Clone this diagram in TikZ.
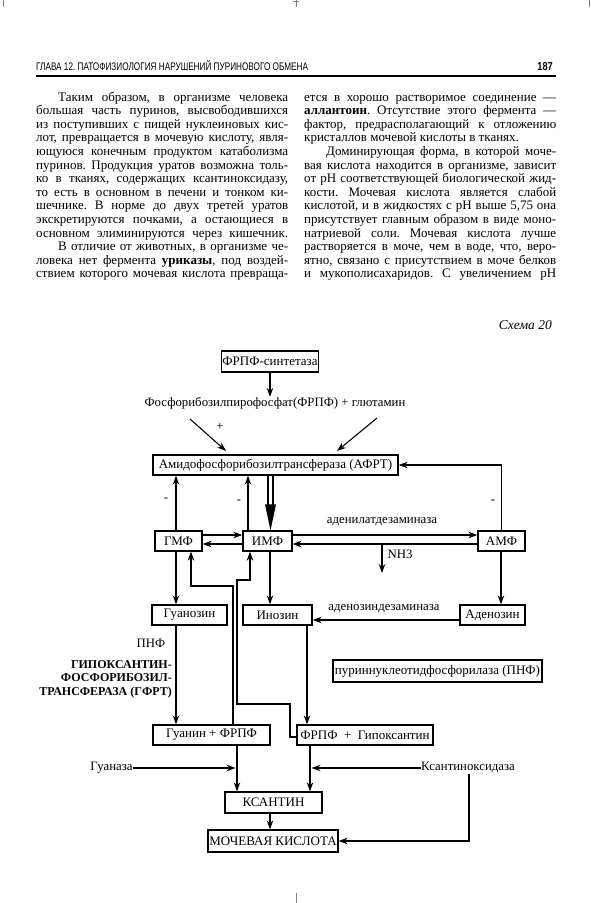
\documentclass[tikz,border=0pt]{standalone}
\usepackage{fontspec}
\usepackage{graphicx}
\setmainfont{Liberation Serif}
\newfontfamily\hdr{Liberation Sans}
\usetikzlibrary{arrows.meta}
\frenchspacing
\newcommand{\jline}[4]{\node[body] at (#1,#2) {\frenchspacing\makebox[#3pt][s]{#4}};}
\newcommand{\nline}[3]{\node[body] at (#1,#2) {#3};}
\begin{document}
\begin{tikzpicture}[x=1pt,y=-1pt,
  box/.style={draw,line width=1.3pt,inner sep=0pt,minimum height=20pt,font=\fontsize{13}{14}\selectfont},
  lab/.style={inner sep=0pt,font=\fontsize{12.8}{14}\selectfont},
  arr/.style={line width=1.1pt,-{Stealth[length=9pt,width=6.5pt]}},
  ln/.style={line width=1.1pt},
  body/.style={inner sep=0pt,anchor=base west,font=\fontsize{13}{13.6}\selectfont},
]
\fill[white] (0,0) rectangle (590,903);
\useasboundingbox (0,0) rectangle (590,903);
% crop ticks
\draw[gray,line width=0.8pt] (3,0) -- (3,7);
\draw[gray,line width=0.8pt] (296,0) -- (296,7);
\draw[gray,line width=0.8pt] (293,1) -- (299,1);
\draw[gray,line width=0.8pt] (589,0) -- (589,7);
\draw[gray,line width=0.8pt] (296,893) -- (296,903);
% header
\node[anchor=base west,inner sep=0pt] (hd) at (36,70) {\scalebox{0.745}[1]{\hdr\fontsize{11}{11}\selectfont ГЛАВА 12. ПАТОФИЗИОЛОГИЯ НАРУШЕНИЙ ПУРИНОВОГО ОБМЕНА}};
\node[anchor=base east,inner sep=0pt] (pg) at (553,70) {\scalebox{0.8}[1]{\hdr\bfseries\fontsize{11.5}{11}\selectfont 187}};
\draw[line width=2.4pt] (36,76) -- (556,76);
% left column
\jline{58}{101}{230}{Таким образом, в организме человека}
\jline{36}{114.6}{252}{большая часть пуринов, высвободившихся}
\jline{36}{128.2}{252}{из поступивших с пищей нуклеиновых кис-}
\jline{36}{141.8}{252}{лот, превращается в мочевую кислоту, явля-}
\jline{36}{155.4}{252}{ющуюся конечным продуктом катаболизма}
\jline{36}{169}{252}{пуринов. Продукция уратов возможна толь-}
\jline{36}{182.6}{252}{ко в тканях, содержащих ксантиноксидазу,}
\jline{36}{196.2}{252}{то есть в основном в печени и тонком ки-}
\jline{36}{209.8}{252}{шечнике. В норме до двух третей уратов}
\jline{36}{223.4}{252}{экскретируются почками, а остающиеся в}
\jline{36}{237}{252}{основном элиминируются через кишечник.}
\jline{58}{250.6}{230}{В отличие от животных, в  организме че-}
\jline{36}{264.2}{252}{ловека нет фермента \textbf{уриказы}, под воздей-}
\jline{36}{277.8}{252}{ствием которого мочевая кислота превраща-}
% right column
\jline{304}{101}{252}{ется в хорошо растворимое соединение —}
\jline{304}{114.6}{252}{\textbf{аллантоин}. Отсутствие этого фермента —}
\jline{304}{128.2}{252}{фактор, предрасполагающий к отложению}
\nline{304}{141.8}{кристаллов мочевой кислоты в тканях.}
\jline{326}{155.4}{230}{Доминирующая форма, в которой моче-}
\jline{304}{169}{252}{вая кислота находится в организме, зависит}
\jline{304}{182.6}{252}{от pH соответствующей биологической жид-}
\jline{304}{196.2}{252}{кости. Мочевая кислота является слабой}
\jline{304}{209.8}{252}{кислотой, и в жидкостях с pH выше 5,75 она}
\jline{304}{223.4}{252}{присутствует главным образом в виде моно-}
\jline{304}{237}{252}{натриевой соли. Мочевая кислота лучше}
\jline{304}{250.6}{252}{растворяется  в моче, чем в воде, что, веро-}
\jline{304}{264.2}{252}{ятно, связано с присутствием в моче белков}
\jline{304}{277.8}{252}{и мукополисахаридов. С увеличением pH}
\node[anchor=base east,inner sep=0pt,font=\itshape\fontsize{13.5}{14}\selectfont] (sch) at (552,329) {Схема 20};
% diagram nodes
\node[box,minimum width=97pt,minimum height=21pt] (syn) at (270,361.5) {ФРПФ-синтетаза};
\node[lab] (frpf) at (275,403) {Фосфорибозилпирофосфат(ФРПФ) + глютамин};
\node[box,minimum width=245pt] (afrt) at (275.5,465) {Амидофосфорибозилтрансфераза (АФРТ)};
\node[box,minimum width=47pt] (gmf) at (178.5,541) {ГМФ};
\node[box,minimum width=49pt] (imf) at (267.5,541) {ИМФ};
\node[box,minimum width=47pt] (amf) at (501.5,541) {АМФ};
\node[box,minimum width=75pt] (guo) at (189.5,615) {Гуанозин};
\node[box,minimum width=69pt] (ino) at (277.5,615) {Инозин};
\node[box,minimum width=65pt] (ado) at (492.5,615) {Аденозин};
\node[box,minimum width=209pt,minimum height=22pt] (pnf) at (437.5,671) {пуриннуклеотидфосфорилаза (ПНФ)};
\node[box,minimum width=117pt] (gua) at (211.5,735) {Гуанин + ФРПФ};
\node[box,minimum width=136pt] (hyp) at (365,735) {ФРПФ~ + ~Гипоксантин};
\node[box,minimum width=97pt,minimum height=21pt] (xan) at (273.5,802.5) {КСАНТИН};
\node[box,minimum width=130pt,minimum height=22pt] (uric) at (273,841) {МОЧЕВАЯ КИСЛОТА};
% labels
\node[lab] (plus) at (220,427) {+};
\node[lab] (m1) at (166,500) {-};
\node[lab] (m2) at (239,502) {-};
\node[lab] (m3) at (493,502) {-};
\node[lab] (ada) at (382,522) {аденилатдезаминаза};
\node[lab] (nh3) at (400,554) {NH3};
\node[lab] (adz) at (384,609) {аденозиндезаминаза};
\node[lab] (pnfl) at (151,643) {ПНФ};
\node[lab,font=\bfseries\fontsize{12}{13.8}\selectfont,align=right,anchor=north east] (gfrt) at (172,660) {ГИПОКСАНТИН-\\ФОСФОРИБОЗИЛ-\\ТРАНСФЕРАЗА (ГФРТ)};
\node[lab] (gz) at (111.5,768) {Гуаназа};
\node[lab] (xo) at (468,768) {Ксантиноксидаза};
% helper coordinates
\coordinate (c176) at (176,0);
\coordinate (c191) at (191,0);
\coordinate (c233) at (233,0);
\coordinate (c236) at (235.5,0);
\coordinate (c237) at (237,0);
\coordinate (c248) at (248,0);
\coordinate (c250) at (250,0);
\coordinate (c268) at (268,0);
\coordinate (c270) at (270,0);
\coordinate (c270h) at (270.5,0);
\coordinate (c273) at (273,0);
\coordinate (c290) at (290,0);
\coordinate (c307) at (307,0);
\coordinate (c310) at (310,0);
\coordinate (c312) at (311.5,0);
\coordinate (c469) at (469,0);
\coordinate (c501) at (501,0);
\coordinate (y535) at (0,535);
\coordinate (y544) at (0,544);
\coordinate (y580) at (0,580);
\coordinate (y586) at (0,586);
\coordinate (y620) at (0,620);
\coordinate (y704) at (0,704);
\coordinate (y737) at (0,737);
\coordinate (fl) at (190,419);
\coordinate (fle) at (226,451);
\coordinate (fr) at (377,418);
\coordinate (fre) at (337,451);
\coordinate (nh) at (382,544);
% connectors
\draw[arr] (syn.south) -- (syn.south |- frpf.north);
\draw[arr] (fl) -- (fle);
\draw[arr] (fr) -- (fre);
\draw[arr] (gmf.north -| c176) -- (afrt.south -| c176);
\draw[arr] (imf.north -| c248) -- (afrt.south -| c248);
\draw[ln] (afrt.south -| c268) -- ++(0,32);
\draw[ln] (afrt.south -| c273) -- ++(0,32);
\fill (imf.north -| c270h) -- ++(-5.5,-26) -- ++(11,0) -- cycle;
\draw[arr] (gmf.east |- y535) -- (imf.west |- y535);
\draw[arr] (imf.west |- y544) -- (gmf.east |- y544);
\draw[arr] (imf.east |- y535) -- (amf.west |- y535);
\draw[arr] (amf.west |- y544) -- (imf.east |- y544);
\draw[arr] (nh) -- ++(0,29);
\draw[arr] (amf.north) |- (afrt.east);
\draw[arr] (gmf.south -| c176) -- (guo.north -| c176);
\draw[arr] (imf.south -| c270) -- (ino.north -| c270);
\draw[arr] (amf.south -| c501) -- (ado.north -| c501);
\draw[arr] (ado.west |- y620) -- (ino.east |- y620);
\draw[arr] (guo.south -| c176) -- (gua.north -| c176);
\draw[arr] (ino.south -| c307) -- (hyp.north -| c307);
\draw[arr] (gua.north -| c233) -- (c233 |- y586) -- (c191 |- y586) -- (gmf.south -| c191);
\draw[arr] (hyp.west |- y737) -- (c290 |- y737) -- (c290 |- y704) -- (c237 |- y704) -- (c237 |- y580) -- (c250 |- y580) -- (imf.south -| c250);
\draw[arr] (gua.south -| c237) -- (xan.north -| c237);
\draw[arr] (hyp.south -| c310) -- (xan.north -| c310);
\draw[arr] (gz.east) -- (c236 |- gz.east);
\draw[arr] (xo.west) -- (c312 |- xo.west);
\draw[arr] (xo.south -| c469) |- (uric.east);
\draw[arr] (xan.south -| c270) -- (uric.north -| c270);
\end{tikzpicture}
\end{document}
